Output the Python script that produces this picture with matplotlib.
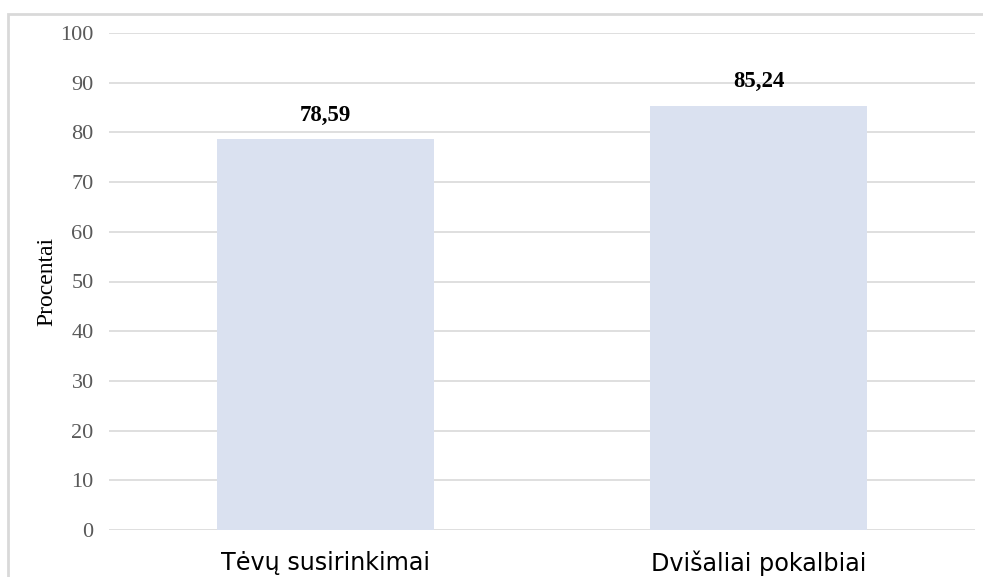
import matplotlib.pyplot as plt
from matplotlib.patches import Rectangle

categories = ['Tėvų susirinkimai', 'Dvišaliai pokalbiai']
values = [78.59, 85.24]
value_labels = ['78,59', '85,24']
y_ticks = [0, 10, 20, 30, 40, 50, 60, 70, 80, 90, 100]

serif = ['Liberation Serif', 'DejaVu Serif']

fig = plt.figure(figsize=(9.83, 5.77), dpi=100)
ax = fig.add_axes([109 / 983, 1 - 530 / 577, (975 - 109) / 983, (530 - 33) / 577])

# light frame around the chart, open to the right and bottom
fig.patches.append(Rectangle((8 / 983, -0.2), 1.2, 1.2 - 14 / 577,
                             transform=fig.transFigure, fill=False,
                             edgecolor='#D9D9D9', linewidth=2, zorder=0))

x = list(range(len(categories)))
ax.bar(x, values, width=0.5, color='#DAE1F0', zorder=2)

for xi, v, lab in zip(x, values, value_labels):
    ax.annotate(lab, xy=(xi, v), xytext=(0, 10), textcoords='offset points',
                ha='center', va='bottom', fontsize=16.5, fontweight='bold',
                family=serif, color='#000000')

ax.set_xlim(-0.5, 1.5)
ax.set_ylim(0, 100)
ax.set_yticks(y_ticks)
ax.set_yticklabels([str(t) for t in y_ticks], family=serif, fontsize=16, color='#595959')
ax.set_xticks(x)
ax.set_xticklabels(categories, family='DejaVu Sans', fontsize=17.2, color='#000000')
ax.tick_params(axis='both', length=0)
ax.tick_params(axis='y', pad=11)
ax.tick_params(axis='x', pad=15)

ax.grid(axis='y', color='#D9D9D9', linewidth=1.2, zorder=0)
ax.set_axisbelow(True)
for s in ax.spines.values():
    s.set_visible(False)

ax.set_ylabel('Procentai', family=serif, fontsize=17, color='#000000', labelpad=2)

plt.savefig('out.png', dpi=100)
